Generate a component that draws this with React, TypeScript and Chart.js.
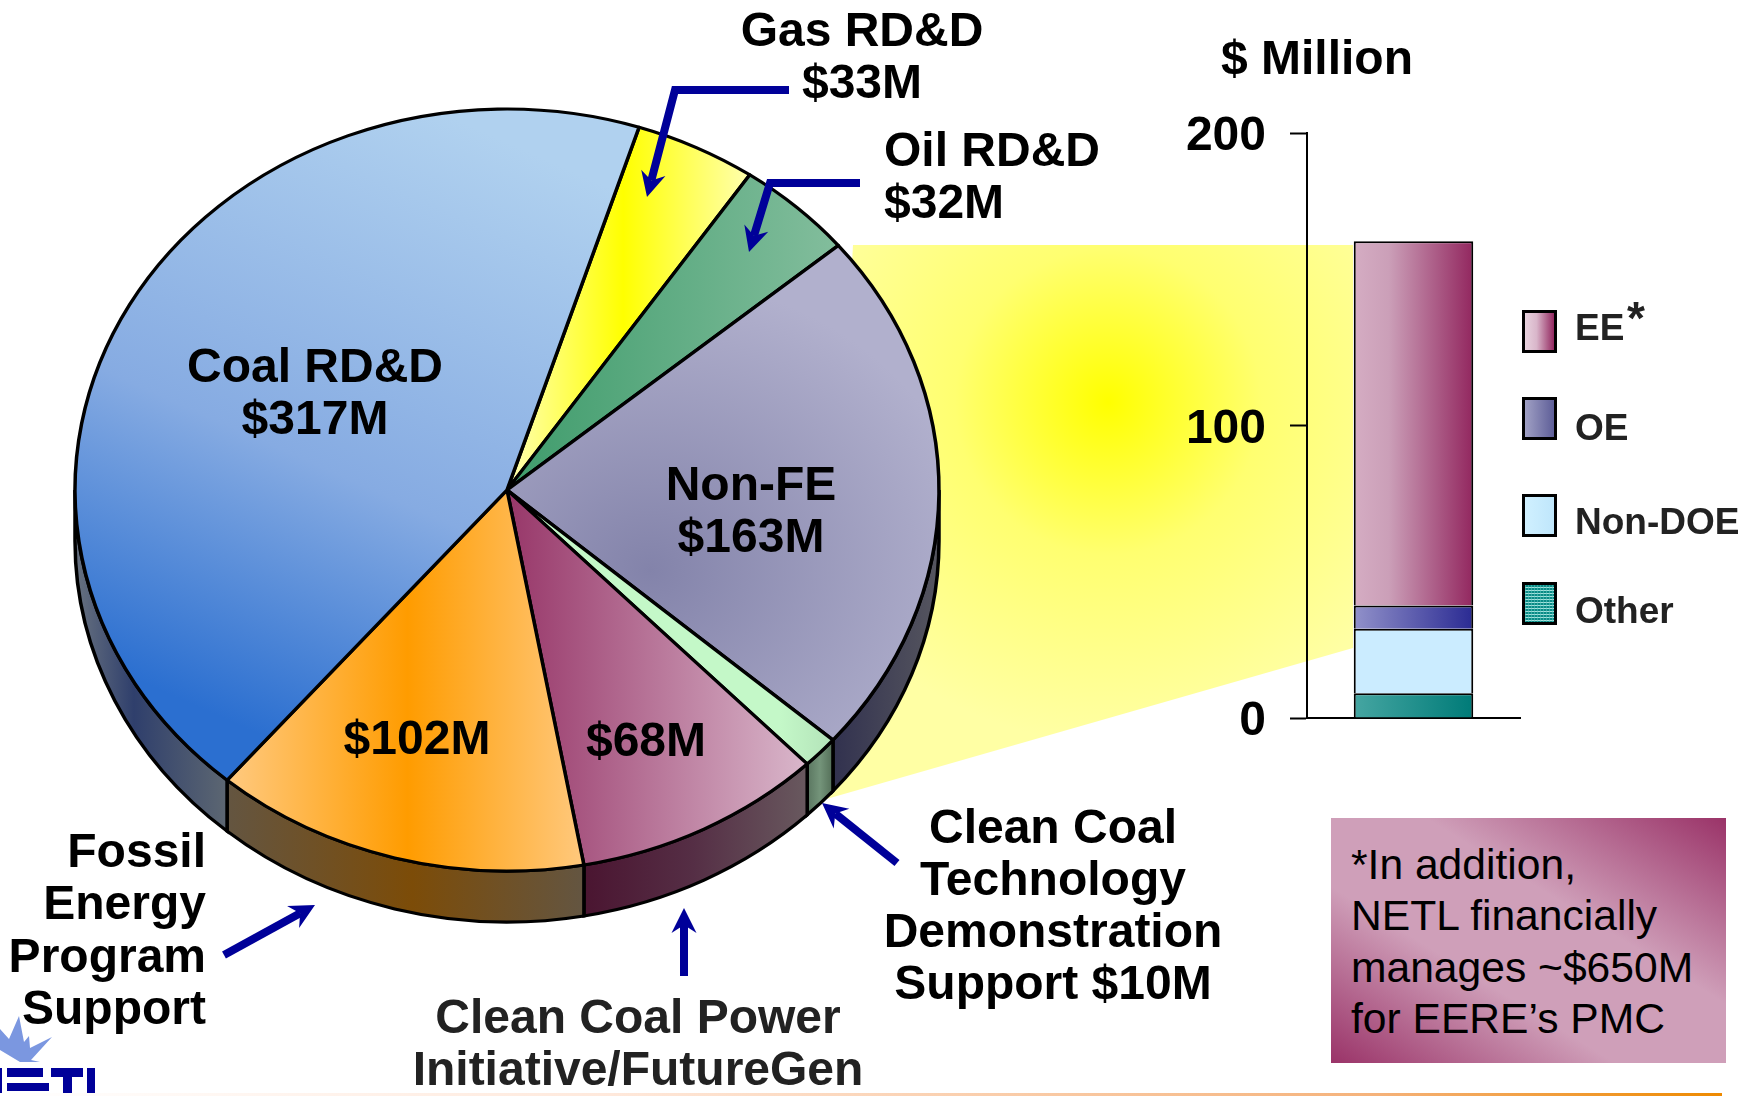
import React, { useEffect, useRef } from "react";
import { Chart, registerables } from "chart.js";

Chart.register(...registerables);

// ---- data ----
const pieCategories = ["Gas RD&D", "Oil RD&D", "Non-FE", "Clean Coal Technology Demonstration Support", "Clean Coal Power Initiative/FutureGen", "Fossil Energy Program Support", "Coal RD&D"];
const pieValues = [33, 32, 163, 10, 68, 102, 317];
const barCategories = ["Non-FE"];
const barSeriesNames = ["Other", "Non-DOE", "OE", "EE"];
const barOther = [8.5];
const barNonDoe = [22];
const barOe = [8];
const barEe = [124.5];
const barTicks = [0, 100, 200];
const FONT = '"Liberation Sans", Arial, sans-serif';
const NAVY = "#000099";

// ---- layout ----
const W = 1758, H = 1096;
const PIE = { cx: 507, cy: 490, rx: 432, ry: 381, depth: 51, rotation: 17.8 };
const BAR = { left: 1307, right: 1520, top: 133, bottom: 718, x0: 1353, x1: 1472.5 };
const K = PIE.ry / PIE.rx;
const faceY = (y: number) => PIE.cy + (y - PIE.cy) / K;
const AXIS_BOX_LEFT = 1100;

type Stops = [number, string][];
function linear(ctx: CanvasRenderingContext2D, x0: number, y0: number, x1: number, y1: number, stops: Stops) {
  const g = ctx.createLinearGradient(x0, faceY(y0), x1, faceY(y1));
  stops.forEach(([o, c]) => g.addColorStop(o, c));
  return g;
}
function flat(ctx: CanvasRenderingContext2D, x0: number, x1: number, stops: Stops) {
  const g = ctx.createLinearGradient(x0, 0, x1, 0);
  stops.forEach(([o, c]) => g.addColorStop(o, c));
  return g;
}

function arrow(ctx: CanvasRenderingContext2D, pts: number[][]) {
  const n = pts.length;
  const [tx, ty] = pts[n - 1];
  const [px, py] = pts[n - 2];
  const d = Math.hypot(tx - px, ty - py);
  const ux = (tx - px) / d, uy = (ty - py) / d;
  const L = 25, HW = 12.5, NOTCH = 17;
  ctx.save();
  ctx.strokeStyle = NAVY;
  ctx.fillStyle = NAVY;
  ctx.lineWidth = 8;
  ctx.lineJoin = "miter";
  ctx.beginPath();
  ctx.moveTo(pts[0][0], pts[0][1]);
  for (let i = 1; i < n - 1; i++) ctx.lineTo(pts[i][0], pts[i][1]);
  ctx.lineTo(tx - ux * NOTCH, ty - uy * NOTCH);
  ctx.stroke();
  ctx.beginPath();
  ctx.moveTo(tx, ty);
  ctx.lineTo(tx - ux * L - uy * HW, ty - uy * L + ux * HW);
  ctx.lineTo(tx - ux * NOTCH, ty - uy * NOTCH);
  ctx.lineTo(tx - ux * L + uy * HW, ty - uy * L - ux * HW);
  ctx.closePath();
  ctx.fill();
  ctx.restore();
}

function drawLogo(ctx: CanvasRenderingContext2D) {
  ctx.save();
  ctx.fillStyle = "#7b97e0";
  const star = [[0, 1029], [9, 1039], [19, 1016], [24, 1042], [29, 1036], [30, 1048], [52, 1037], [31, 1060], [40, 1062], [20, 1062], [0, 1050]];
  ctx.beginPath();
  star.forEach(([x, y], i) => (i ? ctx.lineTo(x, y) : ctx.moveTo(x, y)));
  ctx.closePath();
  ctx.fill();
  ctx.fillStyle = "#000099";
  const rects = [[0, 1068, 2, 28], [7, 1068, 36, 9], [7, 1083, 42, 8], [51, 1068, 32, 9], [63, 1068, 9, 28], [87, 1068, 8, 28]];
  rects.forEach(([x, y, w, h]) => ctx.fillRect(x, y, w, h));
  ctx.restore();
}

// Stops for the side wall of the disc, slice by slice (same order as the values).
const rimStops: (Stops | null)[] = [
  null,
  null,
  [[0, "#32324f"], [1, "#56565f"]],
  [[0, "#55705b"], [0.5, "#74947a"], [1, "#4e6852"]],
  [[0, "#4a1430"], [0.5, "#552e45"], [1, "#68585e"]],
  [[0, "#645540"], [0.52, "#7c4c08"], [1, "#645540"]],
  [[0, "#687280"], [0.38, "#2f3f6c"], [1, "#5e6872"]],
];
const rimRange = [[0, 0], [0, 0], [835, 940], [805, 835], [580, 805], [230, 580], [75, 230]];

const piePlugin = {
  id: "discPlugin",
  beforeDraw(chart: any) {
    const ctx: CanvasRenderingContext2D = chart.ctx;
    ctx.save();
    const g = ctx.createRadialGradient(1108, 402, 0, 1108, 402, 340);
    g.addColorStop(0, "#ffff00");
    g.addColorStop(0.45, "#ffff70");
    g.addColorStop(1, "#ffffa4");
    ctx.fillStyle = g;
    ctx.beginPath();
    ctx.moveTo(853, 245);
    ctx.lineTo(BAR.x0, 245);
    ctx.lineTo(BAR.x0, 648);
    ctx.lineTo(823, 800);
    ctx.closePath();
    ctx.fill();
    ctx.restore();
  },
  beforeDatasetsDraw(chart: any) {
    const ctx: CanvasRenderingContext2D = chart.ctx;
    const arcs = chart.getDatasetMeta(0).data;
    ctx.save();
    ctx.translate(0, PIE.cy);
    ctx.scale(1, K);
    ctx.translate(0, -PIE.cy);
    const d = PIE.depth / K;
    arcs.forEach((arc: any, i: number) => {
      const stops = rimStops[i];
      if (!stops) return;
      const a0 = Math.max(arc.startAngle, 0);
      const a1 = Math.min(arc.endAngle, Math.PI);
      if (a1 <= a0) return;
      ctx.beginPath();
      ctx.arc(arc.x, arc.y, arc.outerRadius, a0, a1);
      ctx.arc(arc.x, arc.y + d, arc.outerRadius, a1, a0, true);
      ctx.closePath();
      ctx.fillStyle = flat(ctx, rimRange[i][0], rimRange[i][1], stops);
      ctx.fill();
      ctx.lineWidth = 3.5;
      ctx.strokeStyle = "#000";
      ctx.stroke();
    });
  },
  afterDatasetsDraw(chart: any) {
    const ctx: CanvasRenderingContext2D = chart.ctx;
    ctx.restore();
    arrow(ctx, [[789, 90], [675, 90], [647, 197]]);
    arrow(ctx, [[860, 183], [770, 183], [749, 252]]);
    arrow(ctx, [[224, 955], [315, 905]]);
    arrow(ctx, [[684, 976], [684, 908]]);
    arrow(ctx, [[897, 863], [822, 803]]);
    drawLogo(ctx);
  },
};

const wrap: React.CSSProperties = { position: "absolute", left: 0, top: 0, width: W, height: H, overflow: "hidden", background: "#fff", fontFamily: FONT };
const layer: React.CSSProperties = { position: "absolute", left: 0, top: 0, width: W, height: H };

function Txt(p: { x: number; y: number; a?: "l" | "c" | "r"; size?: number; weight?: number; color?: string; children: React.ReactNode }) {
  const a = p.a ?? "c";
  const tx = a === "l" ? "0" : a === "c" ? "-50%" : "-100%";
  return (
    <div style={{ position: "absolute", left: p.x, top: p.y, transform: `translate(${tx},-50%)`, whiteSpace: "nowrap", fontSize: p.size ?? 48, fontWeight: p.weight ?? 700, color: p.color ?? "#000", lineHeight: 1 }}>
      {p.children}
    </div>
  );
}

const swatch = (top: number, background: string, extra?: React.CSSProperties) => (
  <div style={{ position: "absolute", left: 1522, top, width: 35, height: 43, boxSizing: "border-box", border: "3px solid #000", background, ...extra }} />
);

export default function App() {
  const pieRef = useRef<HTMLCanvasElement>(null);
  const barRef = useRef<HTMLCanvasElement>(null);

  useEffect(() => {
    const pctx = pieRef.current!.getContext("2d")!;
    const nonFe = pctx.createRadialGradient(650, faceY(570), 0, 650, faceY(570), 330);
    nonFe.addColorStop(0, "#8383aa");
    nonFe.addColorStop(1, "#b1b0cd");
    const faceFills = [
      flat(pctx, 515, 745, [[0, "#ffffa8"], [0.47, "#ffff00"], [1, "#ffffa8"]]),
      flat(pctx, 510, 835, [[0, "#3f9c6c"], [1, "#82bd9c"]]),
      nonFe,
      flat(pctx, 780, 835, [[0, "#c4f8c8"], [1, "#b2e2b8"]]),
      flat(pctx, 510, 805, [[0, "#98386a"], [1, "#d9b6ca"]]),
      flat(pctx, 230, 585, [[0, "#ffc97e"], [0.5, "#ff9c00"], [1, "#ffc97e"]]),
      linear(pctx, 160, 690, 480, 130, [[0, "#2b6fd0"], [0.42, "#86abe2"], [1, "#b0d1ef"]]),
    ];

    const r = PIE.rx + 1.75;
    const pie = new Chart(pieRef.current!, {
      type: "pie",
      data: {
        labels: pieCategories,
        datasets: [{ data: pieValues, backgroundColor: faceFills as any, borderColor: "#000", borderWidth: 3.5, borderJoinStyle: "round" }],
      },
      options: {
        responsive: false,
        animation: false,
        rotation: PIE.rotation,
        layout: { padding: { left: PIE.cx - r, right: W - PIE.cx - r, top: PIE.cy - r, bottom: H - PIE.cy - r }, autoPadding: false },
        plugins: { legend: { display: false }, tooltip: { enabled: false }, title: { display: false } },
      },
      plugins: [piePlugin as any],
    });

    const bctx = barRef.current!.getContext("2d")!;
    const barGrad = (stops: Stops) => flat(bctx, BAR.x0, BAR.x1, stops);
    const bar = new Chart(barRef.current!, {
      type: "bar",
      data: {
        labels: barCategories,
        datasets: [
          { label: barSeriesNames[0], data: barOther, backgroundColor: barGrad([[0, "#46a6a2"], [1, "#007b78"]]) as any },
          { label: barSeriesNames[1], data: barNonDoe, backgroundColor: "#cbecff" },
          { label: barSeriesNames[2], data: barOe, backgroundColor: barGrad([[0, "#9292ca"], [1, "#2b2b93"]]) as any },
          { label: barSeriesNames[3], data: barEe, backgroundColor: barGrad([[0, "#d5adc3"], [0.3, "#cb9fb8"], [1, "#932860"]]) as any },
        ].map((d) => ({ ...d, borderColor: "#000", borderWidth: { top: 2, left: 2, right: 2, bottom: 0 }, borderSkipped: false, barPercentage: (BAR.x1 - BAR.x0) / (BAR.right - BAR.left), categoryPercentage: 1 })),
      },
      options: {
        responsive: false,
        animation: false,
        layout: { padding: { left: AXIS_BOX_LEFT, right: W - BAR.right, top: BAR.top, bottom: H - BAR.bottom }, autoPadding: false },
        plugins: { legend: { display: false }, tooltip: { enabled: false }, title: { display: false } },
        scales: {
          x: {
            stacked: true,
            afterFit: (s: any) => { s.height = 0; },
            ticks: { display: false },
            grid: { display: true, drawOnChartArea: false, drawTicks: false },
            border: { display: true, color: "#000", width: 2 },
          },
          y: {
            stacked: true,
            min: 0,
            max: 200,
            afterFit: (s: any) => { s.width = BAR.left - AXIS_BOX_LEFT; },
            afterBuildTicks: (s: any) => { s.ticks = barTicks.map((value) => ({ value })); },
            ticks: { color: "#000", padding: 24, labelOffset: 4, font: { family: FONT, size: 48, weight: "bold" } },
            grid: { drawOnChartArea: false, drawTicks: true, tickLength: 17, tickColor: "#000", tickWidth: 2 },
            border: { display: true, color: "#000", width: 2 },
          },
        },
      },
    });
    return () => { pie.destroy(); bar.destroy(); };
  }, []);

  const note = ["*In addition,", "NETL financially", "manages ~$650M", "for EERE\u2019s PMC"];
  return (
    <div style={wrap}>
      <canvas ref={pieRef} width={W} height={H} style={layer} />
      <canvas ref={barRef} width={W} height={H} style={layer} />

      <Txt x={862} y={30}>Gas RD&amp;D</Txt>
      <Txt x={862} y={82}>$33M</Txt>
      <Txt x={884} y={150} a="l">Oil RD&amp;D</Txt>
      <Txt x={884} y={202} a="l">$32M</Txt>
      <Txt x={1317} y={58}>$ Million</Txt>
      <Txt x={315} y={366}>Coal RD&amp;D</Txt>
      <Txt x={315} y={418}>$317M</Txt>
      <Txt x={751} y={484}>Non-FE</Txt>
      <Txt x={751} y={536}>$163M</Txt>
      <Txt x={417} y={738}>$102M</Txt>
      <Txt x={646} y={740}>$68M</Txt>
      {["Fossil", "Energy", "Program", "Support"].map((t, i) => (
        <Txt key={t} x={206} y={851 + i * 52.3} a="r">{t}</Txt>
      ))}
      {["Clean Coal Power", "Initiative/FutureGen"].map((t, i) => (
        <Txt key={t} x={638} y={1017 + i * 52} color="#222">{t}</Txt>
      ))}
      {["Clean Coal", "Technology", "Demonstration", "Support $10M"].map((t, i) => (
        <Txt key={t} x={1053} y={827 + i * 52}>{t}</Txt>
      ))}

      {swatch(310, "linear-gradient(to right,#e8d2de,#d9b6ca 40%,#932860)")}
      {swatch(397, "linear-gradient(to right,#a0a0c4,#5e5e98)")}
      {swatch(494, "linear-gradient(to right,#d0f0ff,#bfe6fb)")}
      {swatch(582, "linear-gradient(90deg,rgba(90,200,190,.55) 1px,transparent 1px) 0 0/3px 3px,linear-gradient(0deg,rgba(90,200,190,.55) 1px,#0b8a86 1px) 0 0/3px 3px")}
      <Txt x={1575} y={327} a="l" size={37} color="#222">EE</Txt>
      <Txt x={1627} y={318} a="l" size={46} color="#222">*</Txt>
      <Txt x={1575} y={427} a="l" size={37} color="#222">OE</Txt>
      <Txt x={1575} y={521} a="l" size={37} color="#222">Non-DOE</Txt>
      <Txt x={1575} y={610} a="l" size={37} color="#222">Other</Txt>

      <div style={{ position: "absolute", left: 1331, top: 818, width: 395, height: 245, background: "linear-gradient(to top right,#9a3368 0%,#cf9fb9 36%,#cf9fb9 62%,#9a3368 100%)" }} />
      {note.map((t, i) => (
        <Txt key={t} x={1351} y={864 + i * 51.3} a="l" size={42.6} weight={400}>{t}</Txt>
      ))}
      <div style={{ position: "absolute", left: 0, top: 1093, width: 1722, height: 3, background: "linear-gradient(to right,#ffffff,#ffe9dc 35%,#f5b27a 80%,#ee8a00)" }} />
    </div>
  );
}
